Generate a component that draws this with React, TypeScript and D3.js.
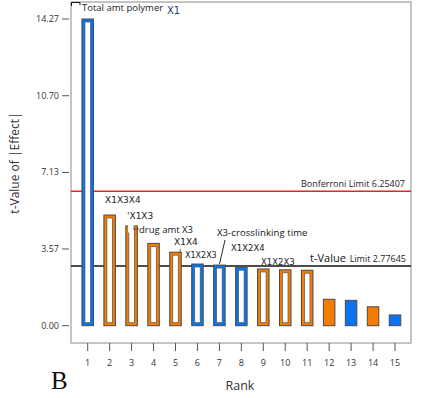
import React from "react";
import * as d3 from "d3";

// ranks and t-values of |effect|
const ranks = [1, 2, 3, 4, 5, 6, 7, 8, 9, 10, 11, 12, 13, 14, 15];
const tValues = [14.27, 5.15, 4.64, 3.83, 3.42, 2.87, 2.82, 2.72, 2.64, 2.6, 2.58, 1.23, 1.18, 0.88, 0.5];
// "pos" = blue, "neg" = orange
const signs = ["pos", "neg", "neg", "neg", "neg", "pos", "pos", "pos", "neg", "neg", "neg", "neg", "pos", "neg", "pos"];
// bars 1-11 are drawn hollow (in the model), 12-15 solid
const inModel = [true, true, true, true, true, true, true, true, true, true, true, false, false, false, false];
const yTicks = [0, 3.57, 7.13, 10.7, 14.27];
const bonferroni = 6.25407;
const tLimit = 2.77645;

const BLUE = "#0a74f0";
const ORANGE = "#f47c00";

export default function App() {
  const W = 430;
  const H = 398;
  const frame = { l: 71, t: 2, r: 411, b: 343 };

  const x = d3.scaleLinear().domain([1, 15]).range([87.7, 395]);
  const y = d3.scaleLinear().domain([0, 14.27]).range([325.7, 19]);
  const bw = 11.5;

  const lbl = { fontFamily: "DejaVu Sans, sans-serif", fontSize: 9, fill: "#222" };

  return (
    <svg width={W} height={H} style={{ position: "absolute", left: 0, top: 0, background: "#fff" }}>
      <rect x={0} y={0} width={W} height={H} fill="#fff" />
      {/* frame */}
      <rect x={frame.l} y={frame.t} width={frame.r - frame.l} height={frame.b - frame.t} fill="none" stroke="#8a8a8a" strokeWidth={1} />
      <path d="M71.5,6 L71.5,2.5 L80,2.5 L80,5" fill="none" stroke="#111" strokeWidth={1} />

      {/* y ticks */}
      {yTicks.map(t => (
        <g key={t}>
          <line x1={62} x2={69} y1={y(t)} y2={y(t)} stroke="#555" />
          <text x={59} y={y(t) + 3} textAnchor="end" fontFamily="Open Sans, sans-serif" fontSize={9} fill="#333">
            {t.toFixed(2)}
          </text>
        </g>
      ))}

      {/* x ticks */}
      {ranks.map(r => (
        <g key={r}>
          <line x1={x(r)} x2={x(r)} y1={frame.b} y2={351} stroke="#555" />
          <text x={x(r)} y={366} textAnchor="middle" fontFamily="Open Sans, sans-serif" fontSize={9} fill="#333">
            {r}
          </text>
        </g>
      ))}

      {/* limit lines */}
      <line x1={frame.l} x2={frame.r} y1={y(bonferroni)} y2={y(bonferroni)} stroke="#ee2020" strokeWidth={1.6} />
      <line x1={frame.l} x2={frame.r} y1={y(tLimit)} y2={y(tLimit)} stroke="#111" strokeWidth={1.6} />

      {/* bars */}
      {ranks.map((r, i) => {
        const c = signs[i] === "pos" ? BLUE : ORANGE;
        const x0 = x(r) - bw / 2;
        const y0 = y(tValues[i]);
        const h = y(0) - y0;
        return (
          <g key={r}>
            <rect x={x0} y={y0} width={bw} height={h} fill={c} stroke="#4a4a4a" strokeWidth={1} />
            {inModel[i] && (
              <rect x={x0 + 3} y={y0 + 3} width={bw - 6} height={Math.max(0, h - 6)} fill="#fff" stroke="#555" strokeWidth={0.7} />
            )}
          </g>
        );
      })}

      {/* limit labels */}
      <text x={405} y={187} textAnchor="end" fontFamily="Open Sans, sans-serif" fontSize={9} fill="#222">
        Bonferroni Limit 6.25407
      </text>
      <text x={310} y={262} fontFamily="Open Sans, sans-serif" fontSize={11} fill="#111">t-Value</text>
      <text x={406} y={262} textAnchor="end" fontFamily="Open Sans, sans-serif" fontSize={9} fill="#222">Limit 2.77645</text>

      {/* term annotations */}
      <text x={82} y={11} fontFamily="Open Sans, sans-serif" fontSize={9.5} fill="#222">Total amt polymer</text>
      <text x={167} y={14} fontFamily="DejaVu Sans, sans-serif" fontSize={10} fill="#1d3a70">X1</text>
      <text x={105} y={203} {...lbl}>X1X3X4</text>
      <text x={127} y={219} {...lbl}>'X1X3</text>
      <rect x={128} y={224.5} width={5.5} height={8} fill="#fff" />
      <line x1={133} x2={139} y1={229} y2={229} stroke="#444" strokeWidth={0.8} />
      <text x={139} y={233} fontFamily="Open Sans, sans-serif" fontSize={9.5} fill="#222">drug amt X3</text>
      <text x={174} y={245} {...lbl}>X1X4</text>
      <path d="M181,249 Q178,251 181,253" fill="none" stroke="#444" strokeWidth={0.8} />
      <text x={185} y={258} fontFamily="DejaVu Sans, sans-serif" fontSize={8} fill="#222">X1X2X3</text>
      <text x={217} y={236} fontFamily="Open Sans, sans-serif" fontSize={9.5} fill="#111" letterSpacing={0.1}>X3-crosslinking time</text>
      <line x1={225} x2={219.5} y1={240} y2={264} stroke="#111" strokeWidth={0.9} />
      <text x={231} y={251} {...lbl} fontSize={8.5}>X1X2X4</text>
      <text x={261} y={265} {...lbl} fontSize={8.5}>X1X2X3</text>

      {/* axis titles */}
      <text
        transform={`translate(19,163) rotate(-90)`}
        textAnchor="middle"
        fontFamily="Open Sans, sans-serif"
        fontSize={12}
        fill="#333"
      >
        t-Value of |Effect|
      </text>
      <text x={240} y={390} textAnchor="middle" fontFamily="Open Sans, sans-serif" fontSize={12.5} fill="#333">
        Rank
      </text>
      <text x={51} y={389} fontFamily="Liberation Serif, serif" fontSize={25} fill="#111">B</text>
    </svg>
  );
}
